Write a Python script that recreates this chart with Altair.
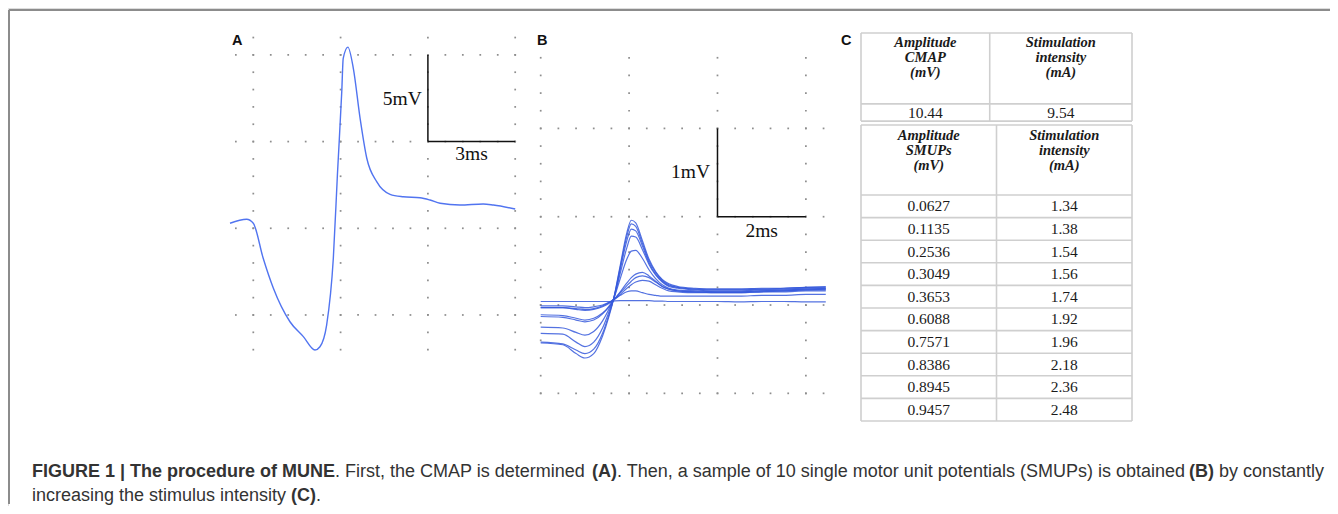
import altair as alt
import pandas as pd
import numpy as np

# ---------------- Panel A : CMAP trace (time in ms, amplitude in mV) ----------------
a_time = [-0.80, -0.23, 0.00, 0.34, 0.69, 1.26, 1.72, 2.12, 2.29, 2.52, 2.75, 2.89, 3.04,
          3.09, 3.25, 3.44, 3.67, 3.90, 4.24, 4.70, 5.15, 5.73, 6.07, 6.42, 7.10, 7.90, 8.25, 9.00]
a_volt = [0.29, 0.52, 0.29, -1.73, -3.46, -5.39, -6.25, -7.02, -6.83, -5.58, -1.73, 3.07, 7.88,
          9.80, 10.45, 9.20, 6.34, 4.04, 2.69, 1.96, 1.82, 1.76, 1.63, 1.44, 1.34, 1.40, 1.34, 1.11]
a_major_t = [0, 3, 6, 9]
a_major_v = [10, 5, 0, -5]
a_bar_origin = (6, 5)      # scale bar corner (ms, mV)
a_bar_ms, a_bar_mv = 3, 5

# ---------------- Panel B : SMUP traces (ms, mV) ----------------
b_time = [0.0, 0.5, 0.8, 1.0, 1.2, 1.4, 1.55, 1.65, 1.8, 1.95, 2.05, 2.15, 2.3, 2.45, 2.6,
          2.75, 2.9, 3.1, 3.5, 4.0, 4.5, 5.0, 5.5, 6.0, 6.45]
b_smup_1 = [-0.43, -0.45, -0.55, -0.60, -0.55, -0.35, -0.12, 0.07, 0.45, 0.82, 0.96, 0.93, 0.73,
            0.52, 0.38, 0.29, 0.24, 0.21, 0.19, 0.18, 0.18, 0.19, 0.19, 0.20, 0.21]
b_smup_2 = [-0.42, -0.44, -0.51, -0.55, -0.50, -0.32, -0.10, 0.07, 0.43, 0.78, 0.92, 0.89, 0.70,
            0.50, 0.37, 0.28, 0.23, 0.20, 0.18, 0.18, 0.18, 0.18, 0.19, 0.20, 0.20]
b_smup_3 = [-0.32, -0.33, -0.42, -0.47, -0.42, -0.26, -0.07, 0.07, 0.40, 0.73, 0.86, 0.84, 0.67,
            0.48, 0.35, 0.27, 0.22, 0.20, 0.18, 0.17, 0.17, 0.18, 0.18, 0.19, 0.19]
b_smup_4 = [-0.25, -0.26, -0.31, -0.34, -0.30, -0.18, -0.04, 0.07, 0.36, 0.65, 0.78, 0.77, 0.63,
            0.46, 0.34, 0.26, 0.21, 0.19, 0.17, 0.16, 0.16, 0.17, 0.17, 0.18, 0.18]
b_smup_5 = [-0.13, -0.14, -0.17, -0.19, -0.17, -0.10, -0.01, 0.07, 0.30, 0.52, 0.61, 0.62, 0.53,
            0.40, 0.30, 0.23, 0.19, 0.17, 0.16, 0.15, 0.15, 0.16, 0.16, 0.17, 0.17]
b_smup_6 = [-0.11, -0.12, -0.15, -0.17, -0.15, -0.09, -0.02, 0.05, 0.15, 0.25, 0.31, 0.35, 0.37,
            0.33, 0.27, 0.21, 0.18, 0.16, 0.15, 0.14, 0.14, 0.15, 0.16, 0.17, 0.18]
b_smup_7 = [-0.03, -0.03, -0.05, -0.06, -0.05, -0.02, 0.02, 0.06, 0.14, 0.22, 0.27, 0.31, 0.33,
            0.31, 0.26, 0.21, 0.18, 0.16, 0.15, 0.15, 0.15, 0.16, 0.17, 0.18, 0.19]
b_smup_8 = [-0.01, -0.01, -0.02, -0.03, -0.02, 0.00, 0.03, 0.06, 0.12, 0.19, 0.23, 0.26, 0.28,
            0.27, 0.23, 0.19, 0.16, 0.15, 0.14, 0.14, 0.14, 0.15, 0.15, 0.16, 0.16]
b_smup_9 = [-0.03, -0.03, -0.04, -0.05, -0.04, -0.01, 0.03, 0.06, 0.11, 0.15, 0.16, 0.16, 0.14,
            0.12, 0.11, 0.10, 0.10, 0.10, 0.10, 0.10, 0.10, 0.11, 0.11, 0.12, 0.12]
b_smup_10 = [0.04, 0.04, 0.04, 0.04, 0.04, 0.04, 0.04, 0.045, 0.05, 0.05, 0.05, 0.05, 0.05,
             0.05, 0.045, 0.045, 0.04, 0.04, 0.04, 0.04, 0.035, 0.04, 0.04, 0.035, 0.035]
b_major_t = [0, 2, 4, 6]
b_major_v = [2, 1, 0, -1]
b_bar_origin = (4, 1)
b_bar_ms, b_bar_mv = 2, 1

# ---------------- Panel C : table ----------------
hdr_cmap = ["Amplitude", "CMAP", "(mV)"]
hdr_stim = ["Stimulation", "intensity", "(mA)"]
hdr_smup = ["Amplitude", "SMUPs", "(mV)"]
cmap_amp = ["10.44"]
cmap_int = ["9.54"]
smup_amp = ["0.0627", "0.1135", "0.2536", "0.3049", "0.3653", "0.6088", "0.7571", "0.8386",
            "0.8945", "0.9457"]
smup_int = ["1.34", "1.38", "1.54", "1.56", "1.74", "1.92", "1.96", "2.18", "2.36", "2.48"]

# ---------------- Caption ----------------
cap_line1 = [("FIGURE 1 | The procedure of MUNE", "bold"),
             (". First, the CMAP is determined", "normal"),
             ("(A)", "bold"),
             (". Then, a sample of 10 single motor unit potentials (SMUPs) is obtained", "normal"),
             ("(B)", "bold"),
             ("by constantly", "normal")]
cap_line2 = [("increasing the stimulus intensity", "normal"),
             ("(C)", "bold"),
             (".", "normal")]
cap_x1 = [24, 327, 584, 609, 1181, 1211]
cap_x2 = [24, 283, 308]

# ================= build =================
def sc(dom, rng):
    return alt.Scale(domain=dom, range=rng, nice=False, zero=False)

XA = sc([-1, 9], [216.2, 507.2])
YA = sc([-8, 12], [359.0, 12.2])
XB = sc([0, 6.6], [532.7, 824.4])
YB = sc([-1.2, 3.0], [403.0, 32.1])
XT = sc([0, 2], [853, 1124])
YT = sc([0, 10], [187, 413])

SERIF = "Liberation Serif"
SANS = "Liberation Sans"
layers = []

def enc(chart, xs, ys, xf="t", yf="v", x2=None, y2=None):
    e = dict(x=alt.X(f"{xf}:Q", scale=xs, axis=None),
             y=alt.Y(f"{yf}:Q", scale=ys, axis=None))
    if x2:
        e["x2"] = alt.X2(f"{x2}:Q")
    if y2:
        e["y2"] = alt.Y2(f"{y2}:Q")
    return chart.encode(**e)

# ---- grid dots
def grid(major_t, major_v, t_rng, v_rng):
    rows = [(t, v) for v in major_v for t in t_rng]
    cols = [(t, v) for t in major_t for v in v_rng]
    return pd.DataFrame(rows + cols, columns=["t", "v"])

gA = grid(a_major_t, a_major_v, np.arange(-0.6, 9.01, 0.6), np.arange(-7, 11.01, 1.0))
gB = grid(b_major_t, b_major_v, np.arange(0, 6.41, 0.4), np.arange(-1, 2.81, 0.2))
for g, xs, ys in [(gA, XA, YA), (gB, XB, YB)]:
    layers.append(enc(alt.Chart(g).mark_square(size=3, color="#8e8e8e", opacity=1), xs, ys))

# ---- Panel A trace
dfA = pd.DataFrame({"t": a_time, "v": a_volt})
layers.append(enc(alt.Chart(dfA).mark_line(color="#5174f0", strokeWidth=1.4,
                                            interpolate="monotone"), XA, YA))

# ---- Panel B traces
b_all = [b_smup_1, b_smup_2, b_smup_3, b_smup_4, b_smup_5, b_smup_6, b_smup_7, b_smup_8,
         b_smup_9, b_smup_10]
dfB = pd.concat([pd.DataFrame({"t": b_time, "v": s, "k": i}) for i, s in enumerate(b_all)])
layers.append(enc(alt.Chart(dfB).mark_line(color="#3659dc", strokeWidth=1.2, opacity=0.85,
                                            interpolate="monotone"), XB, YB)
              .encode(detail="k:N"))

# ---- scale bars
def bar(origin, dms, dmv, xs, ys):
    t0, v0 = origin
    df = pd.DataFrame({"t": [t0, t0], "v": [v0, v0], "t2": [t0, t0 + dms], "v2": [v0 + dmv, v0]})
    return enc(alt.Chart(df).mark_rule(color="#111111", strokeWidth=1.5), xs, ys,
               x2="t2", y2="v2")

layers.append(bar(a_bar_origin, a_bar_ms, a_bar_mv, XA, YA))
layers.append(bar(b_bar_origin, b_bar_ms, b_bar_mv, XB, YB))

def bar_text(label, t, v, xs, ys, align):
    df = pd.DataFrame({"t": [t], "v": [v], "s": [label]})
    return enc(alt.Chart(df).mark_text(font=SERIF, fontSize=19.5, color="#111111",
                                       align=align, baseline="alphabetic"), xs, ys).encode(text="s:N")

layers.append(bar_text(f"{a_bar_mv}mV", 5.79, 7.11, XA, YA, "right"))
layers.append(bar_text(f"{a_bar_ms}ms", 7.5, 3.94, XA, YA, "center"))
layers.append(bar_text(f"{b_bar_mv}mV", 3.83, 1.435, XB, YB, "right"))
layers.append(bar_text(f"{b_bar_ms}ms", 5.0, 0.773, XB, YB, "center"))

# ---- table borders (x in column units, y in row units)
top_top, top_hdr, top_bot = -7.17, -4.03, -3.27
bot_top = -3.10
div_top, div_bot = 0.95, 1.0
n = len(smup_amp)
h_rows = [top_top, top_hdr, top_bot, bot_top] + list(range(0, n + 1))
hl = pd.DataFrame({"x": 0.0, "x2": 2.0, "y": h_rows})
vl = pd.DataFrame({"x": [0, div_top, 2, 0, div_bot, 2],
                   "y": [top_top] * 3 + [bot_top] * 3,
                   "y2": [top_bot] * 3 + [n] * 3})
layers.append(enc(alt.Chart(hl).mark_rule(color="#cfcfcf", strokeWidth=1.6), XT, YT,
                  xf="x", yf="y", x2="x2"))
layers.append(enc(alt.Chart(vl).mark_rule(color="#cfcfcf", strokeWidth=1.6), XT, YT,
                  xf="x", yf="y", y2="y2"))

# ---- table texts
c1t, c2t = div_top / 2, (div_top + 2) / 2
c1b, c2b = div_bot / 2, (div_bot + 2) / 2
hdr_top_rows = [-6.72, -6.06, -5.40]
hdr_bot_rows = [-2.62, -1.96, -1.30]
hdr = pd.DataFrame(
    [(c1t, r, s) for r, s in zip(hdr_top_rows, hdr_cmap)] +
    [(c2t, r, s) for r, s in zip(hdr_top_rows, hdr_stim)] +
    [(c1b, r, s) for r, s in zip(hdr_bot_rows, hdr_smup)] +
    [(c2b, r, s) for r, s in zip(hdr_bot_rows, hdr_stim)],
    columns=["x", "y", "s"])
vals = pd.DataFrame(
    [(c1t, -3.65, cmap_amp[0]), (c2t, -3.65, cmap_int[0])] +
    [(c1b, i + 0.5, s) for i, s in enumerate(smup_amp)] +
    [(c2b, i + 0.5, s) for i, s in enumerate(smup_int)],
    columns=["x", "y", "s"])
layers.append(enc(alt.Chart(hdr).mark_text(font=SERIF, fontSize=14.5, fontStyle="italic",
                                           fontWeight="bold", color="#1a1a1a",
                                           baseline="middle", align="center"),
                  XT, YT, xf="x", yf="y").encode(text="s:N"))
layers.append(enc(alt.Chart(vals).mark_text(font=SERIF, fontSize=15.5, color="#1a1a1a",
                                            baseline="middle", align="center"),
                  XT, YT, xf="x", yf="y").encode(text="s:N"))

# ---- decorations: frame, panel letters, caption
one = pd.DataFrame({"a": [0]})
layers.append(alt.Chart(one).mark_rule(color="#8c8c8c", strokeWidth=2).encode(
    x=alt.value(1), x2=alt.value(1322), y=alt.value(2)))
layers.append(alt.Chart(one).mark_rule(color="#8c8c8c", strokeWidth=2).encode(
    x=alt.value(1), y=alt.value(2), y2=alt.value(496)))

def label(txt, x, y, size, weight, font=SANS, color="#111111"):
    return alt.Chart(pd.DataFrame({"s": [txt]})).mark_text(
        font=font, fontSize=size, fontWeight=weight, color=color,
        align="left", baseline="alphabetic").encode(
        x=alt.value(x), y=alt.value(y), text="s:N")

for txt, x in [("A", 224), ("B", 529), ("C", 833)]:
    layers.append(label(txt, x, 37, 14.5, "bold"))

for (txt, w), x in zip(cap_line1, cap_x1):
    layers.append(label(txt, x, 469, 18, w, color="#333333"))
for (txt, w), x in zip(cap_line2, cap_x2):
    layers.append(label(txt, x, 493, 18, w, color="#333333"))

chart = alt.layer(*layers).resolve_scale(x="independent", y="independent").properties(
    width=1322, height=498, padding=0,
    autosize=alt.AutoSizeParams(type="none")
).configure_view(stroke=None).configure(background="white")

chart.save("out.html", embed_options={"renderer": "svg", "actions": False})
